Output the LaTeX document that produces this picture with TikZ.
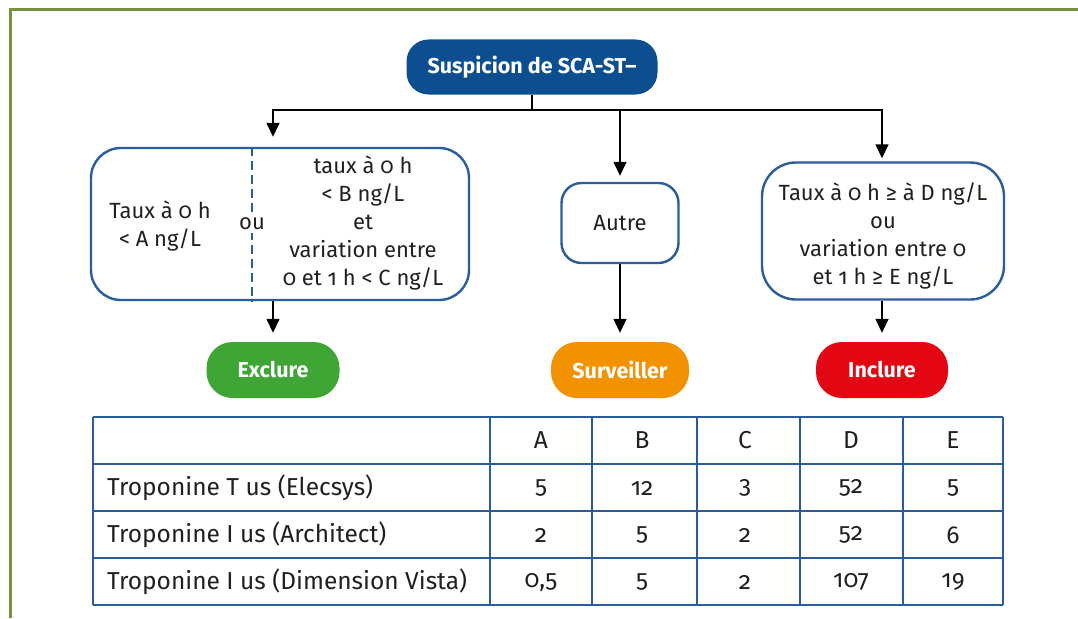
\documentclass[tikz,border=0pt]{standalone}
\usepackage{fontspec}
\setmainfont[Numbers=OldStyle]{Fira Sans}
\usetikzlibrary{arrows.meta}
\definecolor{frame}{HTML}{76923C}
\definecolor{navy}{HTML}{0D4E91}
\definecolor{boxblue}{HTML}{2B5D9B}
\definecolor{txt}{HTML}{231F20}
\definecolor{okgreen}{HTML}{3FA535}
\definecolor{warnorange}{HTML}{F39200}
\definecolor{alertred}{HTML}{E30613}
\tikzset{
  pill/.style={rounded corners=26pt, minimum height=56pt, text=white, font=\fontsize{21.5}{24}\selectfont\bfseries, inner sep=0pt},
  topnode/.style={pill, fill=navy, minimum width=251pt, minimum height=55pt, rounded corners=22pt},
  flowbox/.style={draw=boxblue, line width=2.4pt, fill=white, inner sep=0pt},
  boxtext/.style={text=txt, align=center, font=\fontsize{22}{28}\selectfont, inner sep=0pt},
  arr/.style={line width=1.5pt, -{Triangle[length=14pt,width=13pt]}},
  plain/.style={line width=1.5pt},
  grid/.style={draw=boxblue, line width=1.8pt},
  cell/.style={text=txt, font=\fontsize{24.5}{26}\selectfont, inner sep=0pt},
}
\begin{document}
\begin{tikzpicture}[x=1pt,y=-1pt]
\useasboundingbox (0,0) rectangle (1078,618);
% frame
\draw[frame, line width=3pt] (10,618) -- (10,10) -- (1078,10);
% top
\node[topnode] (top) at (532,67) {Suspicion de SCA-ST–};
% left box
\node[flowbox, minimum width=378pt, minimum height=152pt, rounded corners=30pt] (lb) at (280,224) {};
\coordinate (dv) at (252,224);
\draw[boxblue, line width=2.4pt, dash pattern=on 9pt off 5pt] (dv |- lb.north) -- (dv |- lb.south);
\node[boxtext] (lt) at (160,226) {Taux à 0 h\\ < A ng/L};
\node[boxtext, fill=white, inner sep=3pt] (ou) at (dv) {ou};
\node[boxtext] (rt) at (363,223) {taux à 0 h\\ < B ng/L\\ et\\ variation entre\\ 0 et 1 h < C ng/L};
% middle box
\node[flowbox, minimum width=117pt, minimum height=80pt, rounded corners=20pt] (au) at (620,223) {};
\node[boxtext] (aut) at (au) {Autre};
% right box
\node[flowbox, minimum width=242pt, minimum height=137pt, rounded corners=34pt] (rb) at (883,231) {};
\node[boxtext] (rbt) at (883,236) {Taux à 0 h ≥ à D ng/L\\ ou\\ variation entre 0\\ et 1 h ≥ E ng/L};
% outcomes
\node[pill, fill=okgreen, minimum width=133pt] (ex) at (273,370) {Exclure};
\node[pill, fill=warnorange, minimum width=138pt] (su) at (620,370) {Surveiller};
\node[pill, fill=alertred, minimum width=132pt] (inc) at (882,370) {Inclure};
% connectors
\coordinate (j) at (532,110);
\draw[plain] (top.south) -- (j);
\draw[arr, shorten >=10pt] (j) -| (lb.north -| ex);
\draw[arr, shorten >=6pt] (j) -| (au.north);
\draw[arr, shorten >=3pt] (j) -| (rb.north -| inc);
\draw[arr, shorten >=9pt] (lb.south -| ex) -- (ex.north);
\draw[arr, shorten >=9pt] (au.south) -- (su.north);
\draw[arr, shorten >=9pt] (rb.south -| inc) -- (inc.north);
% table
\foreach \yy in {417,464,511,558,605} \draw[grid] (93,\yy) -- (1003,\yy);
\foreach \xx in {93,490,592,697,800,903,1003} \draw[grid] (\xx,417) -- (\xx,605);
\node[cell] (hA) at (541,440) {A};
\node[cell] (hB) at (642,440) {B};
\node[cell] (hC) at (745,440) {C};
\node[cell] (hD) at (851,440) {D};
\node[cell] (hE) at (953,440) {E};
\node[cell, anchor=west] (r1) at (107,488) {Troponine T us (Elecsys)};
\node[cell, anchor=west] (r2) at (107,535) {Troponine I us (Architect)};
\node[cell, anchor=west] (r3) at (107,582) {Troponine I us (Dimension Vista)};
\node[cell] (a1) at (541,488) {5};
\node[cell] (b1) at (642,488) {12};
\node[cell] (c1) at (745,488) {3};
\node[cell] (d1) at (851,488) {52};
\node[cell] (e1) at (953,488) {5};
\node[cell] (a2) at (541,535) {2};
\node[cell] (b2) at (642,535) {5};
\node[cell] (c2) at (745,535) {2};
\node[cell] (d2) at (851,535) {52};
\node[cell] (e2) at (953,535) {6};
\node[cell] (a3) at (541,582) {0,5};
\node[cell] (b3) at (642,582) {5};
\node[cell] (c3) at (745,582) {2};
\node[cell] (d3) at (851,582) {107};
\node[cell] (e3) at (953,582) {19};
\end{tikzpicture}
\end{document}
